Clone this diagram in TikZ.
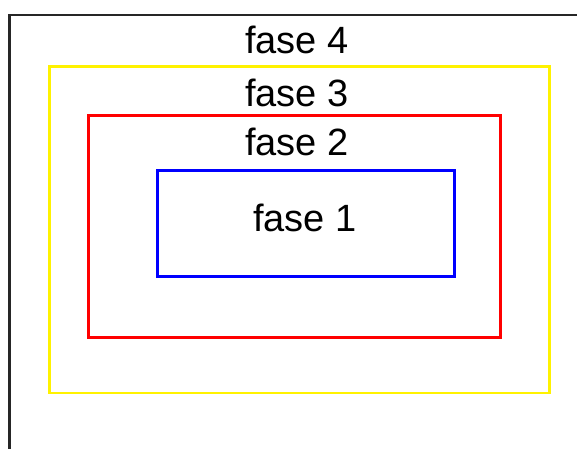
\documentclass[tikz,border=0pt]{standalone}
\usepackage{fontspec}
\setmainfont{Liberation Sans}
\begin{document}
\begin{tikzpicture}[x=1pt,y=-1pt,
  frame/.style={line width=2.6pt},
  label/.style={anchor=base,inner sep=0pt,font=\fontsize{38}{38}\selectfont}]
\useasboundingbox (0,0) rectangle (577,448);
\clip (0,0) rectangle (577,448);
\draw[frame,black!85] (9.5,15) rectangle (600,470);
\draw[frame,yellow] (49.5,66.5) rectangle (549.5,393);
\draw[frame,red] (88.5,115.5) rectangle (500.5,337.5);
\draw[frame,blue] (157.5,170.5) rectangle (454.5,276.5);
\node[label] (f4) at (297,53) {fase 4};
\node[label] (f3) at (297,106) {fase 3};
\node[label] (f2) at (297,155) {fase 2};
\node[label] (f1) at (305,231) {fase 1};
\end{tikzpicture}
\end{document}
